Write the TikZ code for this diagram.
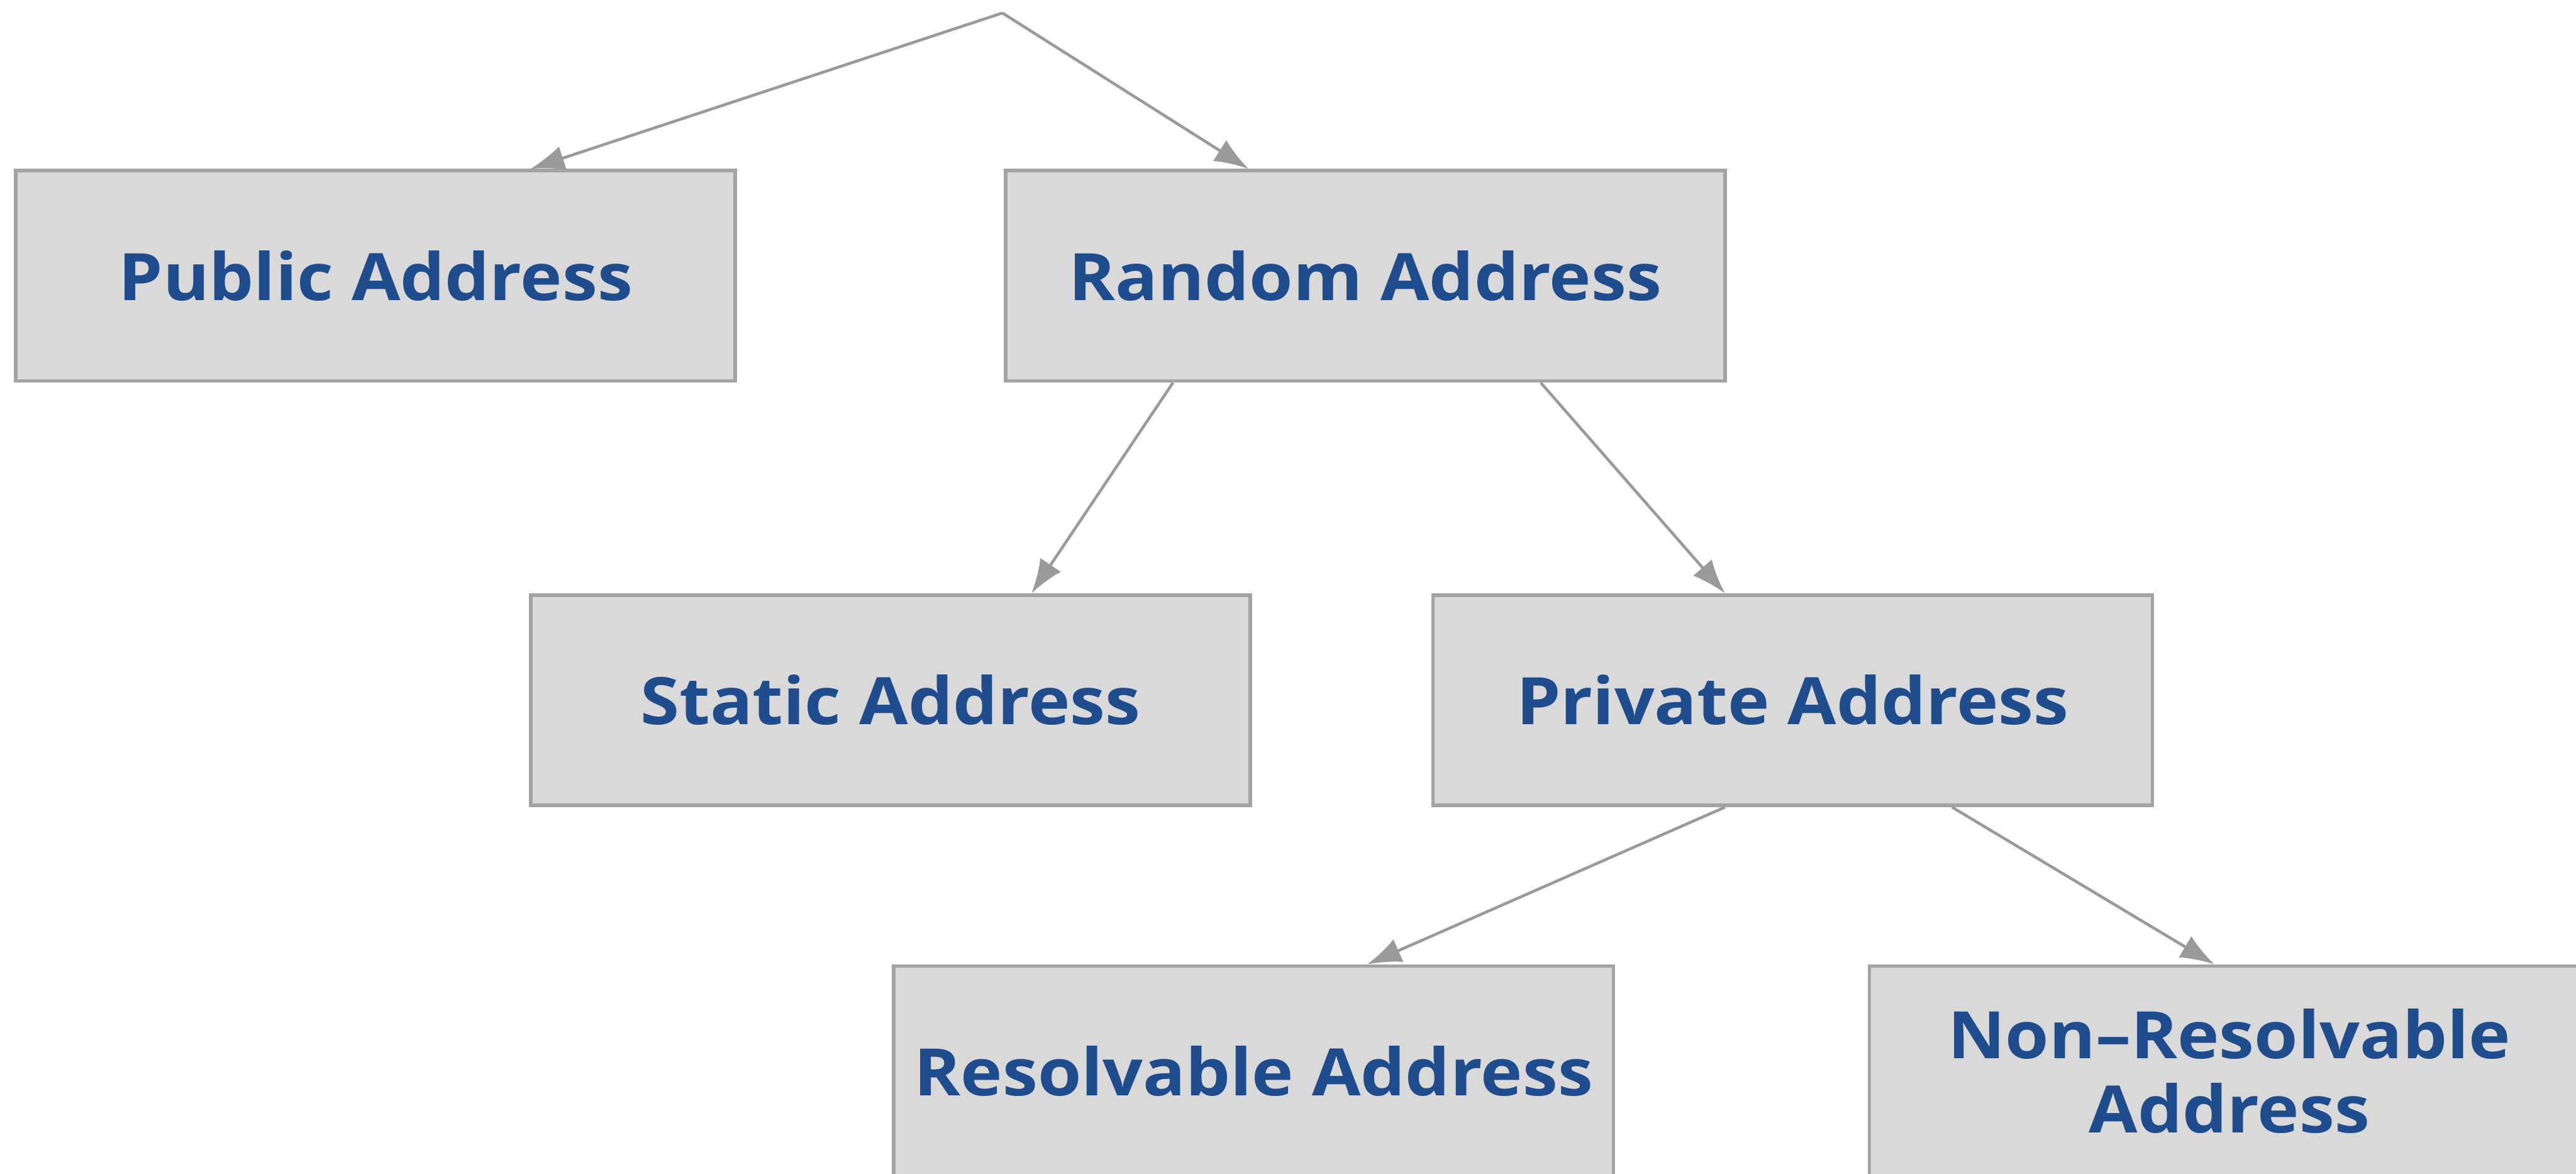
\documentclass[tikz,border=0pt]{standalone}
\usepackage{fontspec}
\setmainfont{Open Sans}[FakeStretch=1.08]
\usetikzlibrary{arrows.meta}
\definecolor{boxfill}{HTML}{D9D9D9}
\definecolor{boxline}{HTML}{A3A3A3}
\definecolor{linkgray}{HTML}{9A9A9A}
\definecolor{labelblue}{HTML}{1F4C8C}
\tikzset{
  addrbox/.style={draw=boxline, fill=boxfill, line width=1.6pt,
    minimum width=11.6cm, minimum height=3.39cm, align=center,
    text=labelblue, font=\fontsize{30}{34}\selectfont\bfseries},
  link/.style={draw=linkgray, line width=1.3pt,
    -{Latex[length=5.5mm,width=4mm]}}
}
\begin{document}
\begin{tikzpicture}
  \clip (0,0) rectangle (41.53,18.91);
  \fill[white] (0,0) rectangle (41.53,18.91);

  % Top level
  \coordinate (apex) at (16.16,18.70);
  \node[addrbox] (public) at (6.055,14.465) {Public Address};
  \node[addrbox] (random) at (22.01,14.465) {Random Address};

  % Random address kinds
  \node[addrbox] (static) at (14.355,7.625) {Static Address};
  \node[addrbox] (private) at (28.90,7.625) {Private Address};

  % Private address kinds
  \node[addrbox] (resolvable) at (20.21,1.645) {Resolvable Address};
  \node[addrbox] (nonres) at (35.94,1.645) {Non--Resolvable\\Address};

  % Links
  \draw[link] (apex) -- ([xshift=2.495cm]public.north);
  \draw[link] (apex) -- ([xshift=-1.88cm]random.north);
  \draw[link] ([xshift=-3.10cm]random.south) -- ([xshift=2.275cm]static.north);
  \draw[link] ([xshift=2.83cm]random.south) -- ([xshift=-1.09cm]private.north);
  \draw[link] ([xshift=-1.09cm]private.south) -- ([xshift=1.83cm]resolvable.north);
  \draw[link] ([xshift=2.57cm]private.south) -- ([xshift=-0.24cm]nonres.north);
\end{tikzpicture}
\end{document}
